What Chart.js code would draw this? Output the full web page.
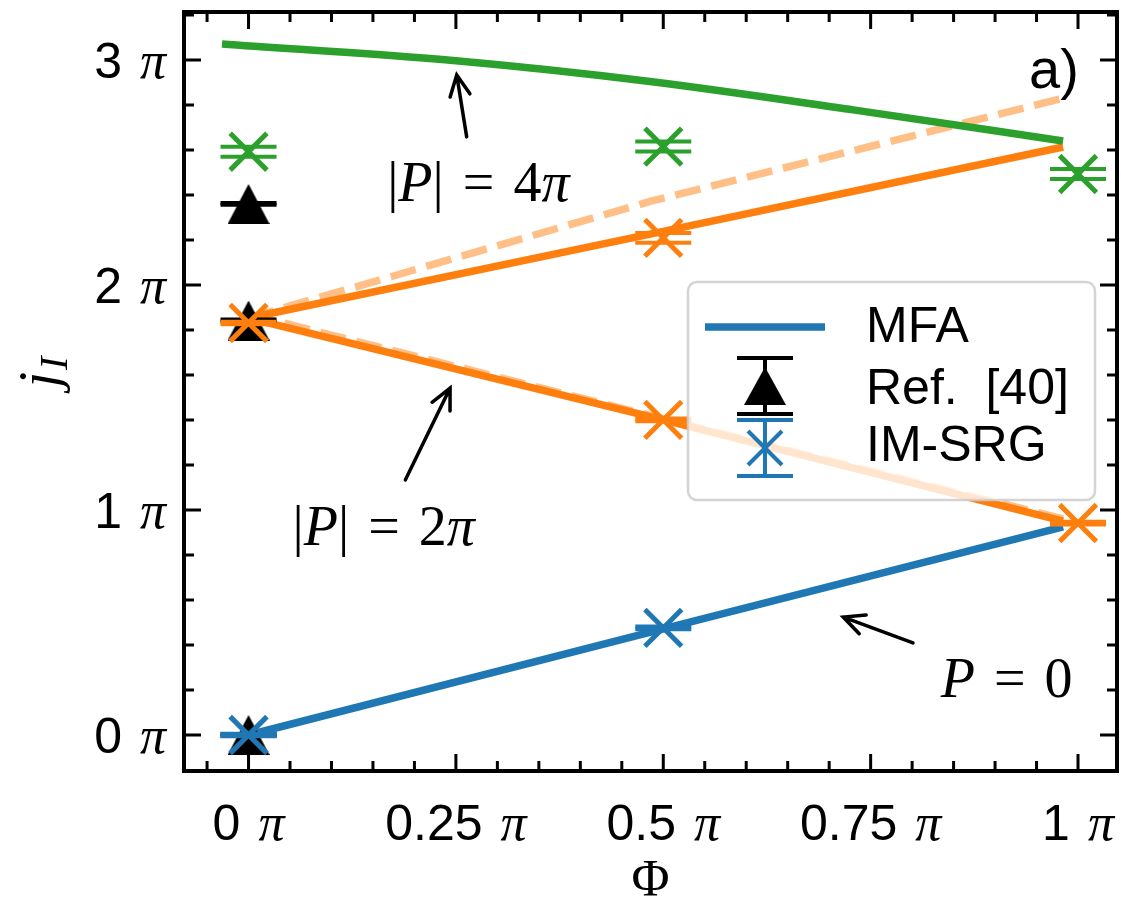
<!DOCTYPE html>
<html>
<head>
<meta charset="utf-8">
<script src="https://cdn.jsdelivr.net/npm/chart.js@4"></script>
<style>
  html, body { margin: 0; background: #fff; }
  #wrap { width: 1121px; height: 907px; }
</style>
</head>
<body>
<div id="wrap"><canvas id="currents"></canvas></div>
<script>
// Φ and j_I are both in units of π

// mean-field curves
const phiMfaP4 = [-0.032, 0.25, 0.484, 0.729, 0.982];
const jMfaP4 = [3.071, 2.996, 2.904, 2.778, 2.64];
const phiMfa = [0, 0.5, 0.982];
const jMfaP2Up = [1.853, 2.238, 2.613];
const jMfaP2Down = [1.853, 1.40, 0.95];
const jMfaP0 = [0, 0.472, 0.925];

// light dashed |P| = 2π curves
const phiDashed = [0, 0.484, 0.982];
const jDashedUp = [1.853, 2.371, 2.83];
const jDashedDown = [1.87, 1.42, 0.96];

// IM-SRG points with error bars
const phiImsrgP0 = [0, 0.5];
const jImsrgP0 = [0, 0.476];
const errImsrgP0 = [0.006, 0.006];
const phiImsrgP2 = [0, 0.5, 0.5, 1];
const jImsrgP2 = [1.831, 2.209, 1.40, 0.942];
const errImsrgP2 = [0.006, 0.022, 0.006, 0.006];
const phiImsrgP4 = [0, 0.5, 1];
const jImsrgP4 = [2.592, 2.615, 2.493];
const errImsrgP4 = [0.022, 0.022, 0.022];

// Ref. [40]
const phiRef40 = [0, 0, 0];
const jRef40 = [0, 1.842, 2.36];
const errRef40 = [0.004, 0.004, 0.004];

const xTicks = [0, 0.25, 0.5, 0.75, 1];
const xTickLabels = ['0', '0.25', '0.5', '0.75', '1'];
const yTicks = [0, 1, 2, 3];
const yTickLabels = ['0', '1', '2', '3'];
const legendLabels = ['MFA', 'Ref.  [40]', 'IM-SRG'];

const BLUE = '#1f77b4', ORANGE = '#ff7f0e', GREEN = '#2ca02c';
const SANS = '"Liberation Sans", Arial, sans-serif';
const SERIF = '"Liberation Serif", "Times New Roman", serif';

const pts = (xs, ys) => xs.map((x, i) => ({ x: x, y: ys[i] }));

// filled up-triangle used as the Ref. [40] marker
const tri = document.createElement('canvas');
tri.width = 42; tri.height = 40;
(function () {
  const c = tri.getContext('2d');
  c.fillStyle = '#000';
  c.beginPath();
  c.moveTo(21, 0); c.lineTo(42, 40); c.lineTo(0, 40); c.closePath();
  c.fill();
})();

function curve(xs, ys, color, order, extra) {
  return Object.assign({
    data: pts(xs, ys), showLine: true, borderColor: color, borderWidth: 7.5,
    pointRadius: 0, tension: 0, order: order
  }, extra || {});
}

function markers(xs, ys, color, style, r, order) {
  return {
    data: pts(xs, ys), showLine: false, pointStyle: style, pointRadius: r,
    pointBorderColor: color, pointBackgroundColor: color, pointBorderWidth: 5, order: order
  };
}

// error-bar caps as short horizontal line markers at y ± err
function caps(xs, ys, errs, color, order) {
  const d = [];
  xs.forEach((x, i) => {
    d.push({ x: x, y: ys[i] + errs[i] });
    d.push({ x: x, y: ys[i] - errs[i] });
  });
  return {
    data: d, showLine: false, pointStyle: 'line', pointRadius: 28,
    pointBorderColor: color, pointBorderWidth: 4, order: order
  };
}

const datasets = [
  curve(phiDashed, jDashedUp, 'rgba(255,127,14,0.5)', 9, { borderDash: [26, 11] }),
  curve(phiDashed, jDashedDown, 'rgba(255,127,14,0.5)', 9, { borderDash: [26, 11] }),
  curve(phiMfa, jMfaP0, BLUE, 8),
  curve(phiMfa, jMfaP2Up, ORANGE, 8),
  curve(phiMfa, jMfaP2Down, ORANGE, 8),
  curve(phiMfaP4, jMfaP4, GREEN, 7, { cubicInterpolationMode: 'monotone' }),
  caps(phiRef40, jRef40, errRef40, '#000', 6),
  markers(phiRef40, jRef40, '#000', tri, 20, 5),
  caps(phiImsrgP0, jImsrgP0, errImsrgP0, BLUE, 4),
  markers(phiImsrgP0, jImsrgP0, BLUE, 'crossRot', 26, 3),
  caps(phiImsrgP2, jImsrgP2, errImsrgP2, ORANGE, 2),
  markers(phiImsrgP2, jImsrgP2, ORANGE, 'crossRot', 26, 1),
  caps(phiImsrgP4, jImsrgP4, errImsrgP4, GREEN, 0),
  markers(phiImsrgP4, jImsrgP4, GREEN, 'crossRot', 26, 0)
];

// text annotations (anchor = centre / baseline) and arrows, in data units
const notes = [
  { parts: [['|', 0], ['P', 1], ['|', 0], ['=', 0, true], ['4', 0], ['π', 1]], x: 0.277, y: 2.373 },
  { parts: [['|', 0], ['P', 1], ['|', 0], ['=', 0, true], ['2', 0], ['π', 1]], x: 0.163, y: 0.844 },
  { parts: [['P', 1], ['=', 0, true], ['0', 0]], x: 0.914, y: 0.169 }
];
const arrows = [
  { from: [0.263, 2.658], to: [0.251, 2.933] },
  { from: [0.189, 1.133], to: [0.243, 1.542] },
  { from: [0.801, 0.409], to: [0.717, 0.524] }
];

function drawMath(ctx, parts, cx, by, size) {
  const gap = 0.34 * size;
  const fontOf = p => (p[1] ? 'italic ' : '') + size + 'px ' + SERIF;
  let w = 0;
  parts.forEach(p => { ctx.font = fontOf(p); w += ctx.measureText(p[0]).width + (p[2] ? 2 * gap : 0); });
  let x = cx - w / 2;
  ctx.textAlign = 'left';
  ctx.textBaseline = 'alphabetic';
  parts.forEach(p => {
    ctx.font = fontOf(p);
    if (p[2]) x += gap;
    ctx.fillText(p[0], x, by);
    x += ctx.measureText(p[0]).width + (p[2] ? gap : 0);
  });
}

function drawArrow(ctx, x0, y0, x1, y1) {
  const a = Math.atan2(y1 - y0, x1 - x0), L = 23, s = 0.45;
  ctx.beginPath();
  ctx.moveTo(x0, y0); ctx.lineTo(x1, y1);
  ctx.moveTo(x1 - L * Math.cos(a - s), y1 - L * Math.sin(a - s));
  ctx.lineTo(x1, y1);
  ctx.lineTo(x1 - L * Math.cos(a + s), y1 - L * Math.sin(a + s));
  ctx.stroke();
}

// tick label "<number> π": sans digits, italic serif π
function piLabel(ctx, num, x, y, align) {
  const fNum = '50px ' + SANS, fPi = 'italic 52px ' + SERIF, gap = 18;
  ctx.font = fNum; const wn = ctx.measureText(num).width;
  ctx.font = fPi; const wp = ctx.measureText('π').width;
  const w = wn + gap + wp;
  let x0 = align === 'right' ? x - w : x - w / 2;
  ctx.textAlign = 'left';
  ctx.font = fNum; ctx.fillText(num, x0, y);
  ctx.font = fPi; ctx.fillText('π', x0 + wn + gap, y);
}

const axesPlugin = {
  id: 'axesPlugin',
  afterDatasetsDraw(chart) {
    const ctx = chart.ctx;
    ctx.save();
    // legend box
    ctx.beginPath();
    ctx.roundRect(688, 282, 407, 218, 9);
    ctx.fillStyle = 'rgba(255,255,255,0.8)';
    ctx.fill();
    ctx.lineWidth = 2.5;
    ctx.strokeStyle = 'rgba(204,204,204,0.85)';
    ctx.stroke();

    ctx.lineCap = 'butt';
    // MFA handle
    ctx.strokeStyle = BLUE; ctx.lineWidth = 7.5;
    ctx.beginPath(); ctx.moveTo(705, 327); ctx.lineTo(825, 327); ctx.stroke();
    // Ref. [40] handle
    ctx.strokeStyle = '#000'; ctx.lineWidth = 4;
    ctx.beginPath();
    ctx.moveTo(765, 358); ctx.lineTo(765, 414);
    ctx.moveTo(737, 358); ctx.lineTo(793, 358);
    ctx.moveTo(737, 414); ctx.lineTo(793, 414);
    ctx.stroke();
    ctx.drawImage(tri, 765 - 21, 386 - 19, 42, 38);
    // IM-SRG handle
    ctx.strokeStyle = BLUE; ctx.lineWidth = 4;
    ctx.beginPath();
    ctx.moveTo(765, 420); ctx.lineTo(765, 476);
    ctx.moveTo(737, 420); ctx.lineTo(793, 420);
    ctx.moveTo(737, 476); ctx.lineTo(793, 476);
    ctx.moveTo(748, 431); ctx.lineTo(782, 465);
    ctx.moveTo(748, 465); ctx.lineTo(782, 431);
    ctx.stroke();

    ctx.fillStyle = '#000';
    ctx.font = '50px ' + SANS;
    ctx.textAlign = 'left';
    ctx.textBaseline = 'middle';
    [328, 390, 447].forEach((y, i) => ctx.fillText(legendLabels[i], 866, y));
    ctx.restore();
  },
  afterDraw(chart) {
    const ctx = chart.ctx, a = chart.chartArea;
    const xs = chart.scales.x, ys = chart.scales.y;
    ctx.save();
    ctx.strokeStyle = '#000';
    ctx.fillStyle = '#000';

    // inward ticks on all four sides
    ctx.lineWidth = 3;
    ctx.beginPath();
    for (let k = -1; k <= 21; k++) {
      const v = k * 0.05;
      if (v < xs.min || v > xs.max) continue;
      const px = xs.getPixelForValue(v), len = k % 5 === 0 ? 17 : 10;
      ctx.moveTo(px, a.bottom); ctx.lineTo(px, a.bottom - len);
      ctx.moveTo(px, a.top); ctx.lineTo(px, a.top + len);
    }
    for (let k = -1; k <= 17; k++) {
      const v = k * 0.2;
      if (v < ys.min || v > ys.max) continue;
      const py = ys.getPixelForValue(v), len = k % 5 === 0 ? 17 : 10;
      ctx.moveTo(a.left, py); ctx.lineTo(a.left + len, py);
      ctx.moveTo(a.right, py); ctx.lineTo(a.right - len, py);
    }
    ctx.stroke();

    // frame
    ctx.lineWidth = 4;
    ctx.strokeRect(a.left, a.top, a.right - a.left, a.bottom - a.top);

    // tick labels
    ctx.textBaseline = 'alphabetic';
    xTicks.forEach((v, i) => piLabel(ctx, xTickLabels[i], xs.getPixelForValue(v), 840, 'center'));
    yTicks.forEach((v, i) => piLabel(ctx, yTickLabels[i], 166, ys.getPixelForValue(v) + 18, 'right'));

    // axis titles
    ctx.font = '52px ' + SERIF;
    ctx.textAlign = 'center';
    ctx.fillText('Φ', (a.left + a.right) / 2, 896);

    ctx.save();
    ctx.translate(58, 372);
    ctx.rotate(-Math.PI / 2);
    ctx.textAlign = 'left';
    ctx.font = 'italic 56px ' + SERIF;
    const wj = ctx.measureText('j').width;
    ctx.font = 'italic 40px ' + SERIF;
    const wi = ctx.measureText('I').width;
    const x0 = -(wj + wi + 2) / 2;
    ctx.font = 'italic 56px ' + SERIF;
    ctx.fillText('j', x0, 0);
    ctx.font = 'italic 40px ' + SERIF;
    ctx.fillText('I', x0 + wj + 2, 9);
    ctx.restore();

    // panel tag
    ctx.font = '56px ' + SANS;
    ctx.textAlign = 'left';
    ctx.fillText('a)', 1029, 88);

    // annotations
    notes.forEach(n => drawMath(ctx, n.parts, xs.getPixelForValue(n.x), ys.getPixelForValue(n.y), 56));
    ctx.lineWidth = 3.5;
    ctx.lineCap = 'round';
    arrows.forEach(r => drawArrow(ctx,
      xs.getPixelForValue(r.from[0]), ys.getPixelForValue(r.from[1]),
      xs.getPixelForValue(r.to[0]), ys.getPixelForValue(r.to[1])));
    ctx.restore();
  }
};

new Chart(document.getElementById('currents'), {
  type: 'scatter',
  data: { datasets: datasets },
  options: {
    responsive: true,
    maintainAspectRatio: false,
    animation: false,
    events: [],
    layout: { autoPadding: false, padding: { left: 184, top: 12, right: 4, bottom: 136 } },
    scales: {
      x: { type: 'linear', display: false, min: -0.0778, max: 1.047 },
      y: { type: 'linear', display: false, min: -0.16, max: 3.213 }
    },
    plugins: { legend: { display: false }, tooltip: { enabled: false } }
  },
  plugins: [axesPlugin]
});
</script>
</body>
</html>
